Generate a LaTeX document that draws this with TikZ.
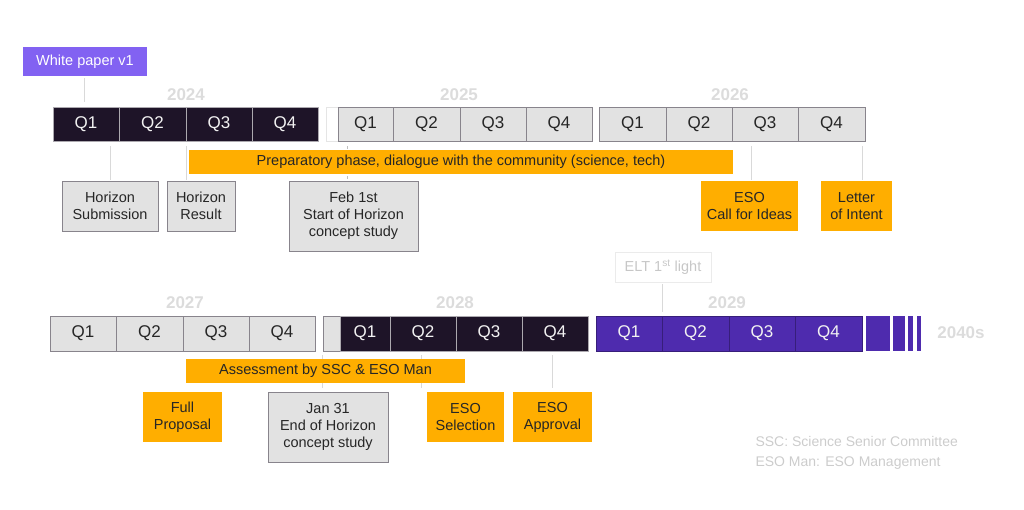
\documentclass[tikz,border=0pt]{standalone}
\usepackage{fontspec}
\setmainfont{Liberation Sans}
\definecolor{dk}{HTML}{1E1428}
\definecolor{gy}{HTML}{E2E2E2}
\definecolor{gl}{HTML}{88848C}
\definecolor{pu}{HTML}{4E2BAE}
\definecolor{wp}{HTML}{8262F2}
\definecolor{og}{HTML}{FFAE00}
\definecolor{yr}{HTML}{DCDCDC}
\begin{document}
\begin{tikzpicture}[x=1pt,y=-1pt,
 q/.style={font=\fontsize{17}{17}\selectfont},
 yrl/.style={font=\bfseries\fontsize{17}{17}\selectfont,text=yr},
 bx/.style={draw=gl,fill=gy,align=center,font=\fontsize{14.5}{17}\selectfont,text=black!85},
 ob/.style={fill=og,align=center,font=\fontsize{14.5}{17}\selectfont,text=black!85},
 tk/.style={draw=black!15,line width=0.8pt}]
\useasboundingbox (0,0) rectangle (1024,509);
\newcommand{\qrow}[6]{% y1 y2 x0..x4 style given in #6
}
% Row 1
\foreach \a/\b/\n in {53/119/Q1,119/186/Q2,186/252/Q3,252/318/Q4}
  \draw[fill=dk,draw=gl!70] (\a,107) rectangle (\b,141) node[midway,q,text=white!90!gray]{\n};
\draw[draw=black!10] (326,107) rectangle (338,141);
\foreach \a/\b/\n in {338/393/Q1,393/460/Q2,460/526/Q3,526/592/Q4,599/666/Q1,666/732/Q2,732/798/Q3,798/865/Q4}
  \draw[fill=gy,draw=gl] (\a,107) rectangle (\b,141) node[midway,q,text=black!85]{\n};
\node[yrl] (y24) at (186,95) {2024};
\node[yrl] (y25) at (459,95) {2025};
\node[yrl] (y26) at (730,95) {2026};
\node[fill=wp,text=white,minimum width=124pt,minimum height=29pt,inner sep=0pt,font=\fontsize{14.5}{17}\selectfont] (wp) at (85,61.5) {White paper v1};
\coordinate (wpt) at (84,102);
\draw[tk] (84,78) -- (wpt);
% ticks row1
\draw[tk] (110,146) -- (110,180);
\draw[tk] (186,146) -- (186,180);
\draw[tk,draw=black!25,dashed] (347,146) -- (347,180);
\draw[tk] (751,146) -- (751,180);
\draw[tk] (862,146) -- (862,180);
\node[ob,minimum width=544pt,minimum height=24pt,inner sep=0pt] (prep) at (461,162) {Preparatory phase, dialogue with the community (science, tech)};
\node[bx,minimum width=96pt,minimum height=50pt,inner sep=0pt] (hs) at (110,206) {Horizon\\Submission};
\node[bx,minimum width=68pt,minimum height=50pt,inner sep=0pt] (hr) at (201,206) {Horizon\\Result};
\node[bx,minimum width=129pt,minimum height=70pt,inner sep=0pt] (feb) at (353.5,216) {Feb 1st\\Start of Horizon\\concept study};
\node[ob,minimum width=97pt,minimum height=50pt,inner sep=0pt] (cfi) at (749.5,206) {ESO\\Call for Ideas};
\node[ob,minimum width=71pt,minimum height=50pt,inner sep=0pt] (loi) at (856.5,206) {Letter\\of Intent};
% Row 2
\foreach \a/\b/\n in {50/116/Q1,116/183/Q2,183/249/Q3,249/315/Q4}
  \draw[fill=gy,draw=gl] (\a,316) rectangle (\b,351) node[midway,q,text=black!85]{\n};
\draw[fill=gy,draw=gl] (323,316) rectangle (340,351);
\foreach \a/\b/\n in {340/390/Q1,390/456/Q2,456/522/Q3,522/588/Q4}
  \draw[fill=dk,draw=gl!70] (\a,316) rectangle (\b,351) node[midway,q,text=white!90!gray]{\n};
\foreach \a/\b/\n in {596/662/Q1,662/729/Q2,729/795/Q3,795/862/Q4}
  \draw[fill=pu,draw=pu!70!black] (\a,316) rectangle (\b,351) node[midway,q,text=white!90!gray]{\n};
\foreach \a/\b in {866/890,893/905,908/913,917/921}
  \fill[pu] (\a,316) rectangle (\b,351);
\node[yrl] (y40) at (961,333) {2040s};
\node[yrl] (y27) at (185,303) {2027};
\node[yrl] (y28) at (455,303) {2028};
\node[yrl] (y29) at (727,303) {2029};
\node[draw=black!8,text=black!22,minimum width=96pt,minimum height=30pt,inner sep=0pt,font=\fontsize{14.5}{17}\selectfont] (elt) at (663,267) {ELT 1\textsuperscript{st} light};
\draw[tk] (662,284) -- (662,312);
\draw[tk] (322,355) -- (322,388);
\draw[tk] (421,355) -- (421,388);
\draw[tk] (552,355) -- (552,388);
\node[ob,minimum width=279pt,minimum height=24pt,inner sep=0pt] (ass) at (325.5,371) {Assessment by SSC \& ESO Man};
\node[ob,minimum width=79pt,minimum height=50pt,inner sep=0pt] (fp) at (182.5,417) {Full\\Proposal};
\node[bx,minimum width=120pt,minimum height=70pt,inner sep=0pt] (jan) at (328,427) {Jan 31\\End of Horizon\\concept study};
\node[ob,minimum width=77pt,minimum height=50pt,inner sep=0pt] (sel) at (465.5,417) {ESO\\Selection};
\node[ob,minimum width=79pt,minimum height=50pt,inner sep=0pt] (app) at (552.5,417) {ESO\\Approval};
\node[anchor=west,text=black!20,align=left,font=\fontsize{14}{20}\selectfont] (leg) at (752,453) {SSC: Science Senior Committee\\ESO Man: ESO Management};
\end{tikzpicture}
\end{document}
